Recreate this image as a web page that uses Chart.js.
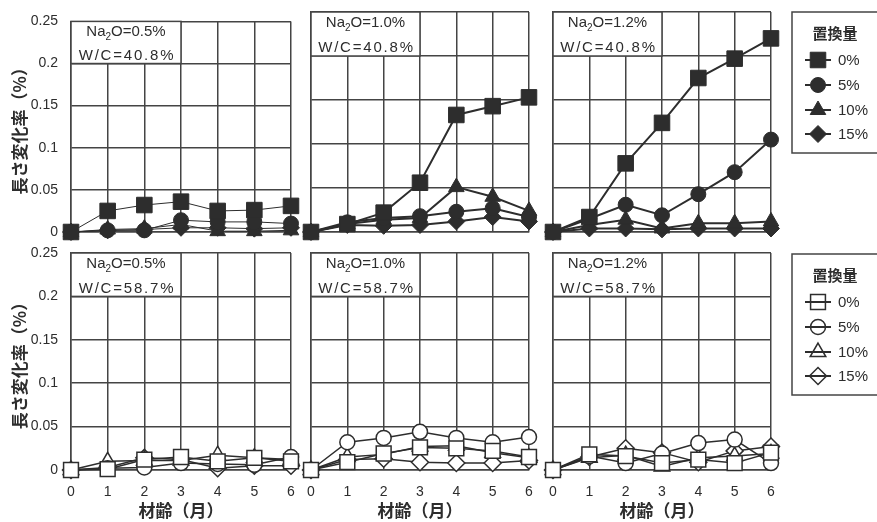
<!DOCTYPE html>
<html>
<head>
<meta charset="utf-8">
<script src="https://cdn.jsdelivr.net/npm/chart.js"></script>
<style>
  body { margin: 0; background: #fff; }
  #wrap { position: relative; width: 877px; height: 522px; overflow: hidden; }
  #wrap canvas { position: absolute; left: 0; top: 0; }
</style>
</head>
<body>
<div id="wrap">
  <canvas id="p1" width="877" height="522"></canvas>
  <canvas id="p2" width="877" height="522"></canvas>
  <canvas id="p3" width="877" height="522"></canvas>
  <canvas id="p4" width="877" height="522"></canvas>
  <canvas id="p5" width="877" height="522"></canvas>
  <canvas id="p6" width="877" height="522"></canvas>
</div>
<script>
// data (length change %, by age in months)

const months = ['0', '1', '2', '3', '4', '5', '6'];
const amounts = ['0%', '5%', '10%', '15%'];
const yTicks = [0, 0.05, 0.1, 0.15, 0.2, 0.25];

// W/C = 40.8%
const na05wc408 = [
    [0, 0.025, 0.032, 0.036, 0.025, 0.026, 0.031],
    [0, 0.002, 0.002, 0.014, 0.012, 0.012, 0.010],
    [0, 0.003, 0.004, 0.009, 0.001, 0.001, 0.002],
    [0, 0.002, 0.003, 0.005, 0.005, 0.004, 0.005]
];
const na10wc408 = [
    [0, 0.009, 0.022, 0.056, 0.133, 0.143, 0.153],
    [0, 0.011, 0.016, 0.018, 0.023, 0.027, 0.017],
    [0, 0.009, 0.014, 0.016, 0.051, 0.040, 0.024],
    [0, 0.008, 0.007, 0.008, 0.012, 0.017, 0.012]
];
const na12wc408 = [
    [0, 0.017, 0.078, 0.124, 0.175, 0.197, 0.220],
    [0, 0.015, 0.031, 0.019, 0.043, 0.068, 0.105],
    [0, 0.008, 0.014, 0.004, 0.010, 0.010, 0.012],
    [0, 0.004, 0.004, 0.003, 0.004, 0.004, 0.004]
];

// W/C = 58.7%
const na05wc587 = [
    [0, 0.001, 0.012, 0.015, 0.010, 0.014, 0.010],
    [0, 0.002, 0.003, 0.008, 0.007, 0.006, 0.015],
    [0, 0.010, 0.011, 0.011, 0.017, 0.014, 0.012],
    [0, 0.003, 0.014, 0.012, 0.002, 0.005, 0.005]
];
const na10wc587 = [
    [0, 0.009, 0.019, 0.026, 0.025, 0.022, 0.015],
    [0, 0.032, 0.037, 0.044, 0.037, 0.032, 0.038],
    [0, 0.015, 0.018, 0.027, 0.028, 0.020, 0.014],
    [0, 0.012, 0.013, 0.009, 0.008, 0.008, 0.011]
];
const na12wc587 = [
    [0, 0.018, 0.016, 0.008, 0.012, 0.008, 0.020],
    [0, 0.016, 0.008, 0.019, 0.031, 0.035, 0.008],
    [0, 0.014, 0.017, 0.004, 0.014, 0.016, 0.019],
    [0, 0.015, 0.025, 0.020, 0.009, 0.022, 0.027]
];

// look

const ink = '#2d2d2d';
const gridInk = '#444';
const latin = "'Liberation Sans', 'Noto Sans CJK JP', sans-serif";
const cjk = "'Noto Sans CJK JP', sans-serif";
const styles = ['rect', 'circle', 'triangle', 'rectRot'];
const radii = [11, 7.5, 9, 8.5];

// plot area of each panel on the page
const colLeft = [71, 311, 553];
const colWidth = [220, 218, 218];
const rowTop = [11, 253];
const rowHeight = [221, 217];

// white box with Na2O and W/C in the upper left of a panel
const insetBox = {
    id: 'inset',
    beforeDatasetsDraw(chart, args, opts) {
        const { ctx } = chart;
        const x = chart.scales.x, y = chart.scales.y;
        const x0 = x.getPixelForValue(0), x1 = x.getPixelForValue(3);
        const y0 = y.getPixelForValue(0.25), y1 = y.getPixelForValue(0.2);
        ctx.save();
        ctx.fillStyle = '#fff';
        ctx.fillRect(x0, y0, x1 - x0, y1 - y0);
        ctx.strokeStyle = gridInk;
        ctx.lineWidth = 1.5;
        ctx.strokeRect(x0, y0, x1 - x0, y1 - y0);

        ctx.fillStyle = ink;
        ctx.textBaseline = 'middle';
        const cx = (x0 + x1) / 2;
        const l1 = y0 + (y1 - y0) * 0.25;
        const l2 = y0 + (y1 - y0) * 0.82;

        // Na2O line with subscript
        const big = '15px ' + latin, small = '10px ' + latin;
        const rest = 'O=' + opts.na;
        ctx.font = big;
        const wNa = ctx.measureText('Na').width, wRest = ctx.measureText(rest).width;
        ctx.font = small;
        const wSub = ctx.measureText('2').width;
        let sx = cx - (wNa + wSub + wRest) / 2;
        ctx.textAlign = 'left';
        ctx.font = big;
        ctx.fillText('Na', sx, l1);
        ctx.font = small;
        ctx.fillText('2', sx + wNa, l1 + 5);
        ctx.font = big;
        ctx.fillText(rest, sx + wNa + wSub, l1);

        // W/C line is set a little wider
        ctx.letterSpacing = '1.8px';
        ctx.textAlign = 'center';
        ctx.fillText('W/C=' + opts.wc, cx + 1, l2);
        ctx.restore();
    }
};

// key box at the right of a row
const keyBox = {
    id: 'keyBox',
    afterDraw(chart, args, opts) {
        if (!opts.show) return;
        const { ctx } = chart;
        const top = opts.top;
        ctx.save();
        ctx.strokeStyle = gridInk;
        ctx.lineWidth = 1.5;
        ctx.strokeRect(792, top, 100, opts.height);

        ctx.fillStyle = ink;
        ctx.textBaseline = 'middle';
        ctx.textAlign = 'center';
        ctx.font = 'bold 15px ' + cjk;
        ctx.fillText('置換量', 835, top + 21);

        const rows = [48, 73, 98, 122];
        chart.data.datasets.forEach((ds, i) => {
            const yy = top + rows[i];
            ctx.strokeStyle = ink;
            ctx.fillStyle = ds.pointBackgroundColor;
            ctx.lineWidth = ds.pointBorderWidth;
            Chart.helpers.drawPoint(ctx, {
                pointStyle: ds.pointStyle,
                radius: ds.pointRadius,
                borderWidth: ds.pointBorderWidth,
                rotation: 0
            }, 818, yy);
            ctx.lineWidth = 2;
            ctx.beginPath();
            ctx.moveTo(805, yy);
            ctx.lineTo(831, yy);
            ctx.stroke();
            ctx.fillStyle = ink;
            ctx.textAlign = 'left';
            ctx.font = '15px ' + latin;
            ctx.fillText(ds.label, 838, yy + 1);
        });
        ctx.restore();
    }
};

function panel(id, col, row, na, wc, values) {
    const left = colLeft[col], width = colWidth[col];
    const top = rowTop[row], height = rowHeight[row];
    const yW = col === 0 ? 71 : 0;
    const xH = row === 1 ? 52 : 0;
    const filled = row === 0;
    const lineW = row === 1 ? 1.5 : (col === 0 ? 1 : 2);

    return new Chart(document.querySelector(id), {
        type: 'line',
        data: {
            labels: months,
            datasets: values.map((v, i) => ({
                label: amounts[i],
                data: v,
                borderColor: ink,
                borderWidth: lineW,
                pointStyle: styles[i],
                pointRadius: filled ? radii[i] : (i === 0 ? 10.5 : radii[i]),
                pointBackgroundColor: filled ? ink : '#fff',
                pointBorderColor: ink,
                pointBorderWidth: filled ? 1 : 1.5,
                tension: 0,
                clip: false
            }))
        },
        options: {
            responsive: false,
            animation: false,
            events: [],
            layout: {
                padding: { left: left - yW, top: top, right: 877 - left - width, bottom: 522 - top - height - xH }
            },
            plugins: {
                legend: { display: false },
                tooltip: { enabled: false },
                inset: { na: na, wc: wc },
                keyBox: { show: col === 2, top: top + 1, height: 141 }
            },
            scales: {
                x: {
                    grid: { color: gridInk, lineWidth: 1.5, drawTicks: false },
                    border: { color: gridInk, width: 1.5 },
                    ticks: { display: row === 1, padding: 14, color: ink, font: { family: latin, size: 14 } },
                    title: {
                        display: row === 1, text: '材齢（月）', color: ink,
                        font: { family: cjk, size: 17, weight: 'bold' }, padding: { top: 0, bottom: 1 }
                    },
                    afterFit: s => { s.height = xH; }
                },
                y: {
                    min: 0,
                    max: 0.25,
                    afterBuildTicks: s => { s.ticks = yTicks.map(v => ({ value: v })); },
                    grid: { color: gridInk, lineWidth: 1.5, drawTicks: false },
                    border: { color: gridInk, width: 1.5 },
                    ticks: { display: col === 0, padding: 13, color: ink, font: { family: latin, size: 14 }, callback: v => String(v) },
                    title: {
                        display: col === 0, text: '長さ変化率（%）', color: ink,
                        font: { family: cjk, size: 17, weight: 'bold' }, padding: { top: 9, bottom: 0 }
                    },
                    afterFit: s => { s.width = yW; }
                }
            }
        },
        plugins: [insetBox, keyBox]
    });
}

panel('#p1', 0, 0, '0.5%', '40.8%', na05wc408);
panel('#p2', 1, 0, '1.0%', '40.8%', na10wc408);
panel('#p3', 2, 0, '1.2%', '40.8%', na12wc408);
panel('#p4', 0, 1, '0.5%', '58.7%', na05wc587);
panel('#p5', 1, 1, '1.0%', '58.7%', na10wc587);
panel('#p6', 2, 1, '1.2%', '58.7%', na12wc587);
</script>
</body>
</html>
